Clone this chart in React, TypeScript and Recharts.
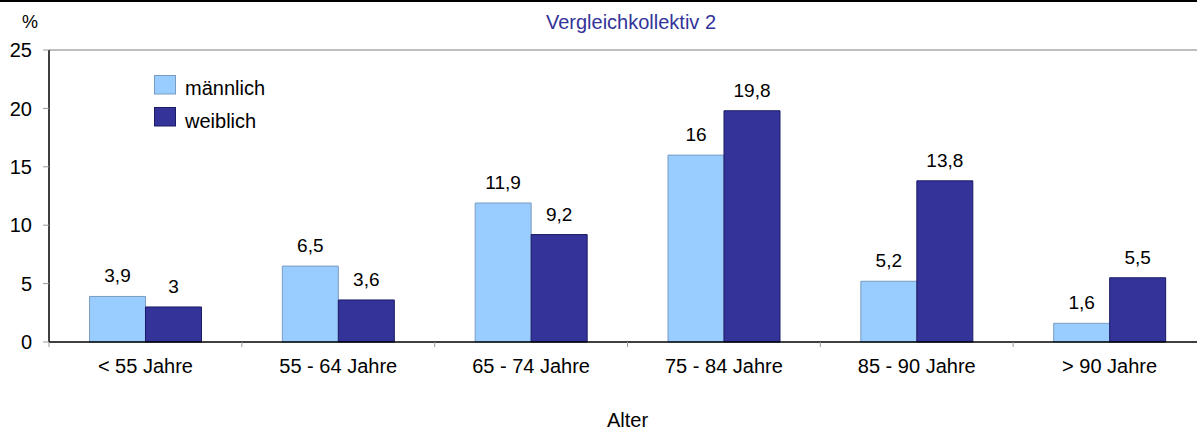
import React from 'react';
import { BarChart, Bar, XAxis, YAxis, LabelList, ReferenceLine, Legend } from 'recharts';

const categories = ['< 55 Jahre', '55 - 64 Jahre', '65 - 74 Jahre', '75 - 84 Jahre', '85 - 90 Jahre', '> 90 Jahre'];
const maennlich = [3.9, 6.5, 11.9, 16, 5.2, 1.6];
const weiblich = [3, 3.6, 9.2, 19.8, 13.8, 5.5];
const yTicks = [0, 5, 10, 15, 20, 25];

const data = categories.map((c, i) => ({ name: c, m: maennlich[i], w: weiblich[i] }));

const FONT = 'Liberation Sans, Arial, sans-serif';
const LIGHT = '#99CCFF';
const DARK = '#333399';

const fmt = (v: any) => String(v).replace('.', ',');

const XTick = (props: any) => {
  const { x, y, payload } = props;
  const off = payload && typeof payload.offset === 'number' ? payload.offset : 0;
  return (
    <g>
      <line x1={x - off} x2={x - off} y1={y} y2={y + 5} stroke="#999" strokeWidth={1} />
      <text x={x} y={y + 31} textAnchor="middle" fontFamily={FONT} fontSize={20} fill="#000">
        {payload.value}
      </text>
    </g>
  );
};

const LegendContent = (props: any) => {
  const payload = props.payload || [];
  return (
    <svg width={200} height={60} style={{ display: 'block' }}>
      {payload.map((p: any, i: number) => (
        <g key={i}>
          <rect x={0.5} y={0.5 + i * 32} width={21} height={18.5} fill={p.color} stroke={i === 0 ? '#7a9cc0' : '#1c1c66'} strokeWidth={1} />
          <text x={31} y={19.5 + i * 33} fontFamily={FONT} fontSize={20} fill="#000">{p.value}</text>
        </g>
      ))}
    </svg>
  );
};

export default function App() {
  return (
    <div style={{ position: 'absolute', left: 0, top: 0, width: 1197, height: 430, overflow: 'hidden', background: '#fff' }}>
      <div style={{ position: 'absolute', left: 0, top: 0, width: 1197, height: 2, background: '#000' }} />
      <svg width={1197} height={40} style={{ position: 'absolute', left: 0, top: 0 }}>
        <text x={22} y={28} fontFamily={FONT} fontSize={18} fill="#000">%</text>
        <text x={631} y={28.5} textAnchor="middle" fontFamily={FONT} fontSize={20} fill={DARK}>Vergleichkollektiv 2</text>
      </svg>
      <BarChart
        width={1206}
        height={430}
        data={data}
        margin={{ top: 50, right: 0, left: 8, bottom: 0 }}
        barCategoryGap="21%"
        barGap={0}
      >
        <ReferenceLine y={25} stroke="#a8a8a8" strokeWidth={1.5} />
        <XAxis
          dataKey="name"
          height={88}
          axisLine={{ stroke: '#000', strokeWidth: 1.5 }}
          tickLine={false}
          tickSize={0}
          tickMargin={0}
          tick={<XTick />}
          interval={0}
          label={{ value: 'Alter', position: 'insideBottom', offset: 3, fontFamily: FONT, fontSize: 20, fill: '#000' }}
        />
        <YAxis
          width={41}
          domain={[0, 25]}
          ticks={yTicks}
          interval={0}
          axisLine={{ stroke: '#000', strokeWidth: 1.5 }}
          tickLine={{ stroke: '#999' }}
          tickSize={6}
          tickMargin={11}
          tick={{ fontFamily: FONT, fontSize: 20, fill: '#000' }}
        />
        <Legend
          layout="vertical"
          align="center"
          verticalAlign="middle"
          wrapperStyle={{ position: 'absolute', left: 154, top: 75, width: 200, height: 60 }}
          content={<LegendContent />}
        />
        <Bar dataKey="m" name="männlich" fill={LIGHT} stroke="#7a9cc0" strokeWidth={1} isAnimationActive={false}>
          <LabelList dataKey="m" position="top" offset={14} formatter={fmt} fontFamily={FONT} fontSize={19} fill="#000" />
        </Bar>
        <Bar dataKey="w" name="weiblich" fill={DARK} stroke="#1c1c66" strokeWidth={1} isAnimationActive={false}>
          <LabelList dataKey="w" position="top" offset={14} formatter={fmt} fontFamily={FONT} fontSize={19} fill="#000" />
        </Bar>
      </BarChart>
    </div>
  );
}
